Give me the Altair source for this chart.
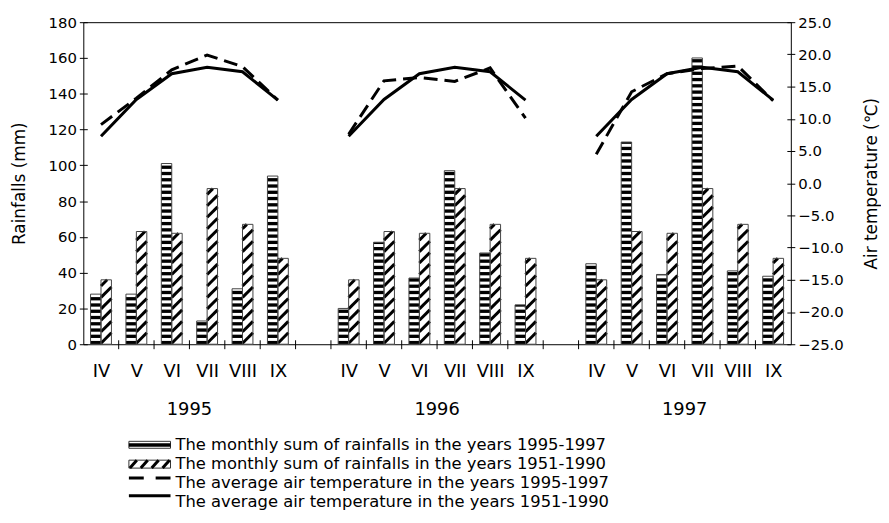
import altair as alt
import pandas as pd

# ---------------- data ----------------
months = ["IV", "V", "VI", "VII", "VIII", "IX"]
years = ["1995", "1996", "1997"]
rain_1995 = [28, 28, 101, 13, 31, 94]
rain_1996 = [20, 57, 37, 97, 51, 22]
rain_1997 = [45, 113, 39, 160, 41, 38]
rain_norm = [36, 63, 62, 87, 67, 48]          # 1951-1990
temp_1995 = [9.1, 13.2, 17.6, 19.9, 18.1, 12.9]
temp_1996 = [7.6, 15.9, 16.4, 15.8, 17.9, 10.1]
temp_1997 = [4.5, 14.2, 17.0, 17.8, 18.2, 12.8]
temp_norm = [7.3, 13.0, 17.0, 18.0, 17.3, 12.9]  # 1951-1990
legend_labels = [
    "The monthly sum of rainfalls in the years 1995-1997",
    "The monthly sum of rainfalls in the years 1951-1990",
    "The average air temperature in the years 1995-1997",
    "The average air temperature in the years 1951-1990",
]

rain_actual = {"1995": rain_1995, "1996": rain_1996, "1997": rain_1997}
temp_actual = {"1995": temp_1995, "1996": temp_1996, "1997": temp_1997}

# ---------------- layout / style constants ----------------
W, H = 714, 325
NSLOT = 20
STRIDE = 7
BW = 0.295               # bar width in slot units
PX_PER_MM = H / 180.0
FONT = "DejaVu Sans"

STRIPE_P = 3.5           # mm, horizontal stripe period
STRIPE_T = 1.85          # mm, black part
HATCH_P = 6.4            # mm, vertical period of hatch lines
HATCH_RISE = (BW * W / NSLOT) / PX_PER_MM  # 45 degree lines

bars, stripes, hatches, lines = [], [], [], []
for g, yr in enumerate(years):
    for m, mon in enumerate(months):
        c = g * STRIDE + m + 0.5
        va = rain_actual[yr][m]
        vn = rain_norm[m]
        bars.append(dict(x0=c - BW, x1=c, v=va, base=0))
        bars.append(dict(x0=c, x1=c + BW, v=vn, base=0))
        k = 0
        while k * STRIPE_P < va:
            stripes.append(dict(x0=c - BW, x1=c, y0=k * STRIPE_P,
                                y1=min(k * STRIPE_P + STRIPE_T, va)))
            k += 1
        k = 0
        while True:
            ys = k * HATCH_P - HATCH_RISE
            if ys >= vn:
                break
            t0 = max(0.0, (0 - ys) / HATCH_RISE)
            t1 = min(1.0, (vn - ys) / HATCH_RISE)
            if t1 > t0:
                hatches.append(dict(hx0=c + t0 * BW, hx1=c + t1 * BW,
                                    hy0=ys + t0 * HATCH_RISE,
                                    hy1=ys + t1 * HATCH_RISE))
            k += 1
        lines.append(dict(x=c, t=temp_actual[yr][m], year=yr, s="actual"))
        lines.append(dict(x=c, t=temp_norm[m], year=yr, s="norm"))

bars = pd.DataFrame(bars)
stripes = pd.DataFrame(stripes)
hatches = pd.DataFrame(hatches)
lines = pd.DataFrame(lines)
ticks = pd.DataFrame({"x": list(range(1, NSLOT))})
yearlab = pd.DataFrame({"year": years, "x": [g * STRIDE + 3 for g in range(3)]})

xscale = alt.Scale(domain=[0, NSLOT], nice=False, zero=False)
label_pos = [g * STRIDE + m + 0.5 for g in range(3) for m in range(6)]
xaxis = alt.Axis(values=label_pos, ticks=False, tickSize=0, domain=False,
                 grid=False, labelPadding=19, labelFontSize=18, labelFont=FONT,
                 labelColor="black", title=None,
                 labelExpr="['IV','V','VI','VII','VIII','IX',''][floor(datum.value) % 7]")


def X(f):
    return alt.X(f, type="quantitative", scale=xscale, axis=xaxis, title=None)


rain_scale = alt.Scale(domain=[0, 180], nice=False, zero=True)
rain_axis = alt.Axis(values=list(range(0, 181, 20)), offset=-4, tickSize=8,
                     domain=False, grid=False, labelPadding=3, labelFontSize=15,
                     labelFont=FONT, labelColor="black", tickColor="black",
                     title="Rainfalls (mm)", titleFont=FONT, titleFontSize=17,
                     titleFontWeight="normal", titleColor="black", titlePadding=20)


def YR(f):
    return alt.Y(f, type="quantitative", scale=rain_scale, axis=rain_axis, title="Rainfalls (mm)")


one = pd.DataFrame({"k": [0]})

fill_white = alt.Chart(bars).mark_rect(fill="white").encode(
    x=X("x0"), x2="x1", y=YR("v"), y2="base")
stripe_l = alt.Chart(stripes).mark_rect(fill="black").encode(
    x=X("x0"), x2="x1", y=YR("y0"), y2="y1")
hatch_l = alt.Chart(hatches).mark_rule(color="black", strokeWidth=3,
                                       strokeCap="butt").encode(
    x=X("hx0"), x2="hx1", y=YR("hy0"), y2="hy1")
outline = alt.Chart(bars).mark_rect(fillOpacity=0, stroke="#444",
                                    strokeWidth=1).encode(
    x=X("x0"), x2="x1", y=YR("v"), y2="base")
tick_l = alt.Chart(ticks).mark_rule(color="black", strokeWidth=1).encode(
    x=X("x"), y=alt.value(H - 4), y2=alt.value(H + 5))
year_l = alt.Chart(yearlab).mark_text(font=FONT, fontSize=18, color="black",
                                      baseline="middle").encode(
    x=X("x"), y=alt.value(H + 66), text="year:N")

rain_group = alt.layer(fill_white, stripe_l, hatch_l, outline, tick_l, year_l)

temp_scale = alt.Scale(domain=[-25, 25], nice=False, zero=False)
temp_axis = alt.Axis(orient="right", values=list(range(-25, 26, 5)), format=".1f",
                     offset=-4, tickSize=8, domain=False, grid=False,
                     labelPadding=3, labelFontSize=15, labelFont=FONT,
                     labelColor="black", tickColor="black",
                     title="Air temperature (\u2103)", titleFont=FONT,
                     titleFontSize=17, titleFontWeight="normal",
                     titleColor="black", titleAngle=270, titleX=85, titleY=H / 2,
                     titleAlign="center", titleBaseline="middle")


def YT(f):
    return alt.Y(f, type="quantitative", scale=temp_scale, axis=temp_axis,
                 title="Air temperature (\u2103)")


solid = alt.Chart(lines[lines.s == "norm"]).mark_line(
    color="black", strokeWidth=3).encode(
    x=X("x"), y=YT("t"), detail="year:N")
dashed = alt.Chart(lines[lines.s == "actual"]).mark_line(
    color="black", strokeWidth=3, strokeDash=[14, 7], strokeCap="butt").encode(
    x=X("x"), y=YT("t"), detail="year:N")
temp_group = alt.layer(solid, dashed)

# ---------------- custom legend ----------------
LX0, LX1 = 46, 88
LT = 93
ROWY = [427, 446, 465, 484]
leg = []
leg.append(alt.Chart(one).mark_rect(fill="white", stroke="#333", strokeWidth=1).encode(
    x=alt.value(LX0), x2=alt.value(LX1), y=alt.value(ROWY[0] - 4), y2=alt.value(ROWY[0] + 3)))
leg.append(alt.Chart(one).mark_rect(fill="black").encode(
    x=alt.value(LX0), x2=alt.value(LX1), y=alt.value(ROWY[0] - 2), y2=alt.value(ROWY[0] + 1.5)))
leg.append(alt.Chart(one).mark_rect(fill="white", stroke="#333", strokeWidth=1).encode(
    x=alt.value(LX0), x2=alt.value(LX1), y=alt.value(ROWY[1] - 4), y2=alt.value(ROWY[1] + 4)))
for hx in [47, 58, 69, 80]:
    leg.append(alt.Chart(one).mark_rule(color="black", strokeWidth=3, strokeCap="butt").encode(
        x=alt.value(hx), x2=alt.value(hx + 7), y=alt.value(ROWY[1] + 4), y2=alt.value(ROWY[1] - 4)))
leg.append(alt.Chart(one).mark_rule(color="black", strokeWidth=3, strokeDash=[15, 12],
                                    strokeCap="butt").encode(
    x=alt.value(LX0), x2=alt.value(LX1), y=alt.value(ROWY[2] - 5)))
leg.append(alt.Chart(one).mark_rule(color="black", strokeWidth=3, strokeCap="butt").encode(
    x=alt.value(LX0), x2=alt.value(LX1), y=alt.value(ROWY[3] - 6)))
for i, lab in enumerate(legend_labels):
    leg.append(alt.Chart(one).mark_text(font=FONT, fontSize=16.5, color="black",
                                        align="left", baseline="middle").encode(
        x=alt.value(LT), y=alt.value(ROWY[i]), text=alt.value(lab)))

chart = alt.layer(rain_group, temp_group, *leg).resolve_scale(
    y="independent").properties(
    width=W, height=H,
    autosize=alt.AutoSizeParams(type="none"),
    padding={"left": 76, "top": 12, "right": 91, "bottom": 168},
    background="white",
).configure_view(stroke="black", strokeWidth=1)

chart.save("out.html", embed_options={"renderer": "svg", "actions": False})
